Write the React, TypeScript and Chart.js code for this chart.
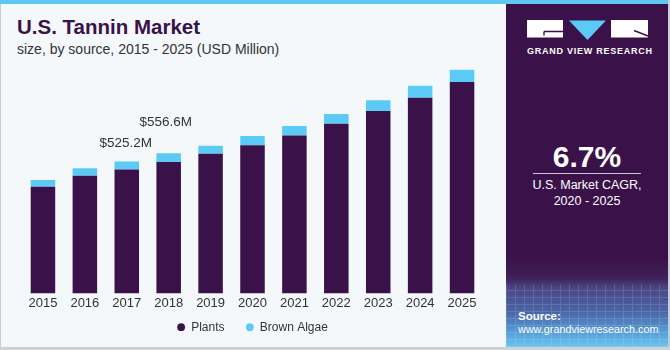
import React, { useEffect, useRef } from "react";
import { Chart, registerables } from "chart.js";

Chart.register(...registerables);

const years = ["2015", "2016", "2017", "2018", "2019", "2020", "2021", "2022", "2023", "2024", "2025"];
const plants = [424, 468, 493, 523, 555, 589, 628, 675, 725, 778, 840];
const brownAlgae = [27, 30, 32, 34, 32, 37, 38, 38, 43, 48, 49];
const seriesNames = ["Plants", "Brown Algae"];
const calloutYears = ["2017", "2018"];
const calloutTexts = ["$525.2M", "$556.6M"];
const yMax = 908;

const titleText = "U.S. Tannin Market";
const subtitleText = "size, by source, 2015 - 2025 (USD Million)";
const cagrValue = "6.7%";
const cagrLines = ["U.S. Market CAGR,", "2020 - 2025"];
const brandText = "GRAND VIEW RESEARCH";
const sourceLabel = "Source:";
const sourceUrl = "www.grandviewresearch.com";

const FONT = "'Liberation Sans', Arial, Helvetica, sans-serif";
const PURPLE = "#3a1249";
const BLUE = "#5bcaf6";
const TEXT = "#333333";

const calloutOffsets = [
  { dx: -1, dy: 18 },
  { dx: -3, dy: 31 },
];

// extra horizontal gap after a legend entry (styling only)
const legendGap = "    ";

const calloutPlugin = {
  id: "callouts",
  afterDatasetsDraw(chart: any) {
    const ctx = chart.ctx;
    const meta = chart.getDatasetMeta(1);
    ctx.save();
    ctx.font = `13.5px ${FONT}`;
    ctx.fillStyle = TEXT;
    ctx.textAlign = "center";
    ctx.textBaseline = "middle";
    calloutYears.forEach((yr, i) => {
      const idx = years.indexOf(yr);
      const el = meta.data[idx];
      if (!el) return;
      const off = calloutOffsets[i];
      ctx.fillText(calloutTexts[i], el.x + off.dx, el.y - off.dy);
    });
    ctx.restore();
  },
};

export default function App() {
  const canvasRef = useRef<HTMLCanvasElement | null>(null);

  useEffect(() => {
    document.body.style.margin = "0";
    const canvas = canvasRef.current;
    if (!canvas) return;
    const chart = new Chart(canvas, {
      type: "bar",
      data: {
        labels: years,
        datasets: [
          {
            label: seriesNames[0],
            data: plants,
            backgroundColor: PURPLE,
            borderWidth: 0,
            barPercentage: 0.585,
            categoryPercentage: 1,
          },
          {
            label: seriesNames[1],
            data: brownAlgae,
            backgroundColor: BLUE,
            borderWidth: 0,
            barPercentage: 0.585,
            categoryPercentage: 1,
          },
        ],
      },
      options: {
        animation: false,
        responsive: true,
        maintainAspectRatio: false,
        layout: { padding: { left: 22, right: 23, top: 5, bottom: 0 } },
        scales: {
          x: {
            stacked: true,
            grid: { display: false, drawTicks: false },
            border: { display: false },
            ticks: { color: TEXT, font: { size: 13, family: FONT }, padding: 2 },
          },
          y: { stacked: true, display: false, min: 0, max: yMax },
        },
        plugins: {
          legend: {
            position: "bottom",
            labels: {
              usePointStyle: true,
              pointStyle: "circle",
              boxWidth: 8,
              boxHeight: 5.5,
              padding: 8,
              color: TEXT,
              font: { size: 12, family: FONT },
              generateLabels: (c: any) => {
                const items = Chart.defaults.plugins.legend.labels.generateLabels(c);
                return items.map((it: any, i: number) =>
                  i < items.length - 1 ? { ...it, text: it.text + legendGap } : it
                );
              },
            },
          },
          tooltip: { enabled: false },
        },
      } as any,
      plugins: [calloutPlugin],
    });
    return () => chart.destroy();
  }, []);

  return (
    <div
      style={{
        position: "absolute",
        left: 0,
        top: 0,
        width: 670,
        height: 350,
        overflow: "hidden",
        background: "#f4f8fb",
        fontFamily: FONT,
      }}
    >
      <div style={{ position: "absolute", left: 0, top: 0, width: 1, height: 350, background: "#c9ccd0" }} />
      <div
        style={{
          position: "absolute",
          left: 17,
          top: 14.5,
          fontSize: 20.5,
          lineHeight: "24px",
          fontWeight: "bold",
          color: PURPLE,
          whiteSpace: "nowrap",
        }}
      >
        {titleText}
      </div>
      <div
        style={{
          position: "absolute",
          left: 17,
          top: 41,
          fontSize: 14,
          lineHeight: "16px",
          color: TEXT,
          whiteSpace: "nowrap",
        }}
      >
        {subtitleText}
      </div>
      <div style={{ position: "absolute", left: 0, top: 60, width: 506, height: 283.2 }}>
        <canvas ref={canvasRef} />
      </div>
      <div
        style={{
          position: "absolute",
          left: 506,
          top: 0,
          width: 162,
          height: 347,
          background:
            "linear-gradient(to bottom, #3a1249 0%, #3a1249 74%, #3f2058 80%, #4a4584 83%, #4a66a8 90%, #58a0d8 96%, #6cc6ee 100%)",
        }}
      >
        <div
          style={{
            position: "absolute",
            left: 0,
            top: 284,
            width: 162,
            height: 63,
            opacity: 0.14,
            background:
              "repeating-linear-gradient(90deg, rgba(255,255,255,0.9) 0px, rgba(255,255,255,0.9) 1px, transparent 1px, transparent 9px), repeating-linear-gradient(0deg, rgba(255,255,255,0.9) 0px, rgba(255,255,255,0.9) 1px, transparent 1px, transparent 7px)",
          }}
        />
        <svg style={{ position: "absolute", left: 21, top: 20 }} width={122} height={22} viewBox="0 0 122 22">
          <rect x={0} y={0} width={36} height={17.5} fill="#ffffff" />
          <path d="M17 11.5 H36 M17 11.5 V15.5" stroke={PURPLE} strokeWidth={1.4} fill="none" />
          <polygon points="42,0.5 79,0.5 60.5,20" fill={BLUE} />
          <rect x={84} y={0} width={37} height={17.5} fill="#ffffff" />
          <path d="M107 10.5 L121 16" stroke={PURPLE} strokeWidth={1.4} fill="none" />
        </svg>
        <div
          style={{
            position: "absolute",
            left: 21,
            top: 45,
            width: 124,
            fontSize: 9,
            lineHeight: "12px",
            fontWeight: "bold",
            letterSpacing: "0.75px",
            color: "#ffffff",
            whiteSpace: "nowrap",
          }}
        >
          {brandText}
        </div>
        <div
          style={{
            position: "absolute",
            left: 0,
            top: 141,
            width: 162,
            textAlign: "center",
            fontSize: 30,
            lineHeight: "32px",
            fontWeight: "bold",
            color: "#ffffff",
          }}
        >
          {cagrValue}
        </div>
        <div style={{ position: "absolute", left: 27, top: 172.5, width: 108, height: 1.5, background: "#cbc3d6" }} />
        {cagrLines.map((t, i) => (
          <div
            key={t}
            style={{
              position: "absolute",
              left: 0,
              top: 177 + i * 15.5,
              width: 162,
              textAlign: "center",
              fontSize: 12.5,
              lineHeight: "16px",
              color: "#ffffff",
              whiteSpace: "nowrap",
            }}
          >
            {t}
          </div>
        ))}
        <div
          style={{
            position: "absolute",
            left: 12,
            top: 308,
            fontSize: 11.5,
            lineHeight: "16px",
            fontWeight: "bold",
            color: "#ffffff",
          }}
        >
          {sourceLabel}
        </div>
        <div
          style={{
            position: "absolute",
            left: 12,
            top: 322,
            fontSize: 10.8,
            lineHeight: "15px",
            color: "#ffffff",
            whiteSpace: "nowrap",
          }}
        >
          {sourceUrl}
        </div>
      </div>
      <div style={{ position: "absolute", left: 0, top: 0, width: 670, height: 4, background: "#5fc8f1" }} />
      <div style={{ position: "absolute", left: 668, top: 0, width: 2, height: 350, background: "#c9ccd0" }} />
      <div style={{ position: "absolute", left: 0, top: 347, width: 670, height: 3, background: "#cfd1d4" }} />
    </div>
  );
}
